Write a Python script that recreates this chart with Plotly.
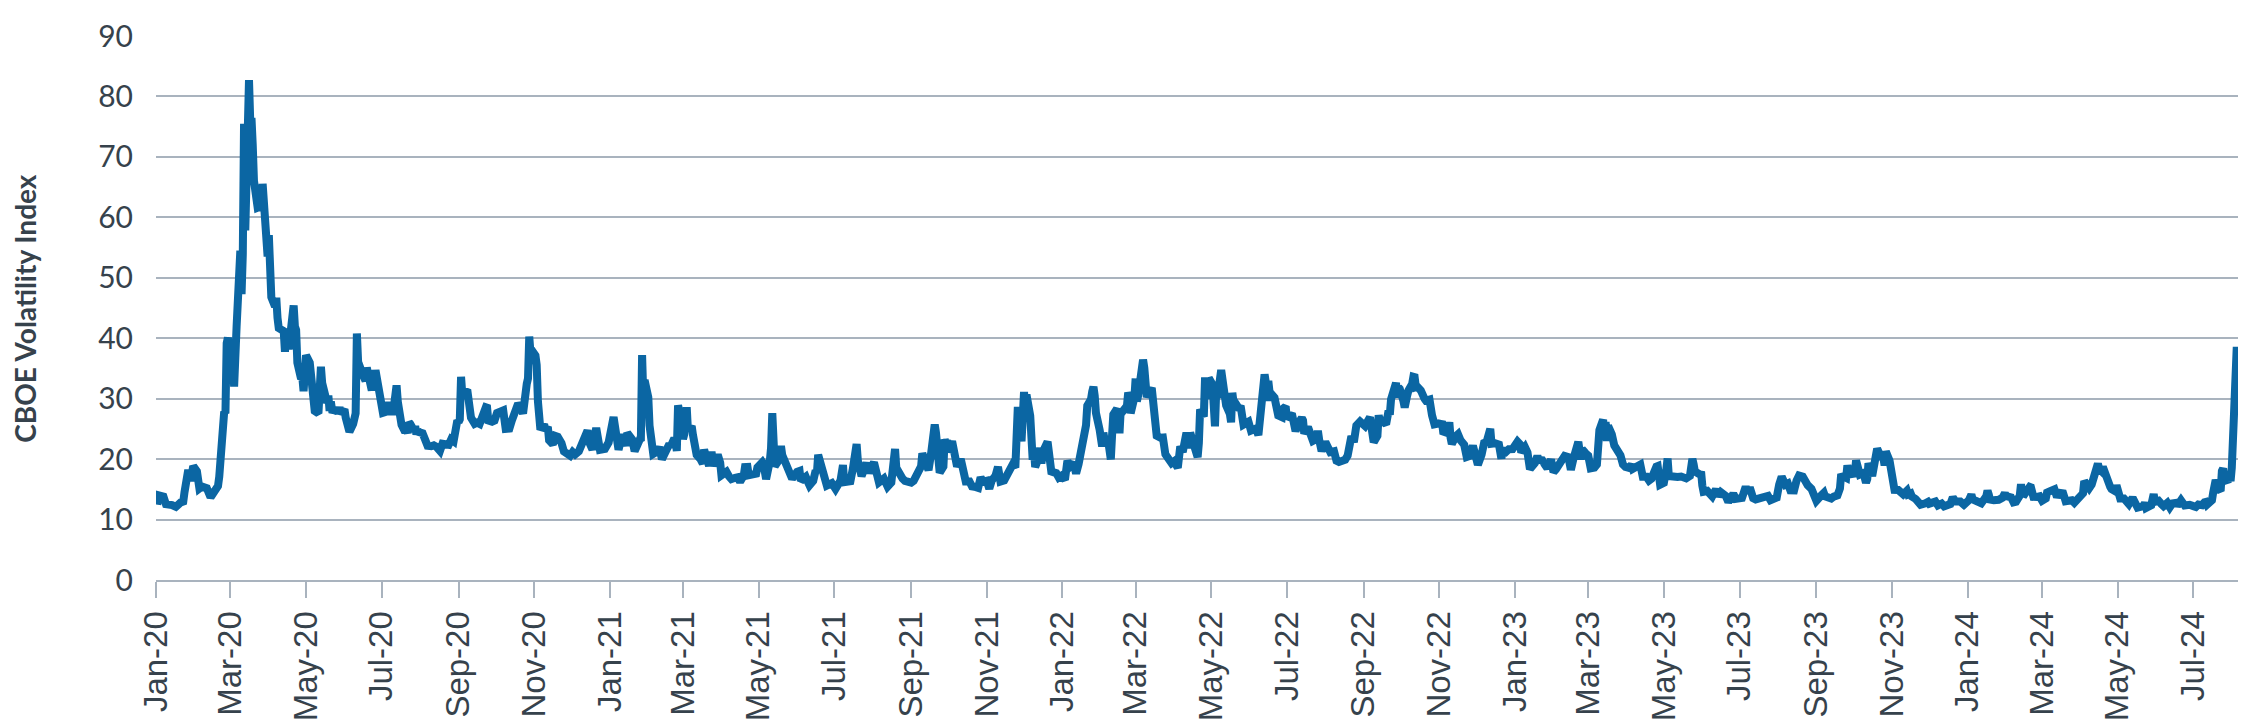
import plotly.graph_objects as go

# VIX daily closes (MM-DD per year)
days_2020 = ["01-02", "01-03", "01-07", "01-09", "01-14", "01-17", "01-21", "01-23", "01-24", "01-27",
             "01-29", "01-31", "02-03", "02-05", "02-07", "02-11", "02-14", "02-18", "02-20", "02-21",
             "02-24", "02-25", "02-26", "02-27", "02-28", "03-02", "03-03", "03-04", "03-05", "03-06",
             "03-09", "03-10", "03-11", "03-12", "03-13", "03-16", "03-17", "03-18", "03-19", "03-20",
             "03-23", "03-24", "03-25", "03-26", "03-27", "03-30", "03-31", "04-01", "04-02", "04-03",
             "04-06", "04-07", "04-08", "04-09", "04-13", "04-14", "04-15", "04-16", "04-17", "04-20",
             "04-21", "04-22", "04-23", "04-24", "04-27", "04-28", "04-29", "04-30", "05-01", "05-04",
             "05-05", "05-06", "05-07", "05-08", "05-11", "05-12", "05-13", "05-14", "05-15", "05-18",
             "05-19", "05-20", "05-21", "05-22", "05-26", "05-27", "05-28", "05-29", "06-01", "06-02",
             "06-03", "06-04", "06-05", "06-08", "06-09", "06-10", "06-11", "06-12", "06-15", "06-16",
             "06-17", "06-18", "06-19", "06-22", "06-23", "06-24", "06-25", "06-26", "06-29", "06-30",
             "07-01", "07-02", "07-06", "07-07", "07-08", "07-09", "07-10", "07-13", "07-14", "07-15",
             "07-16", "07-17", "07-20", "07-21", "07-22", "07-23", "07-24", "07-27", "07-28", "07-29",
             "07-30", "07-31", "08-03", "08-05", "08-07", "08-10", "08-12", "08-14", "08-17", "08-19",
             "08-21", "08-24", "08-26", "08-28", "08-31", "09-01", "09-02", "09-03", "09-04", "09-08",
             "09-09", "09-10", "09-11", "09-14", "09-16", "09-18", "09-21", "09-23", "09-24", "09-25",
             "09-28", "09-30", "10-02", "10-05", "10-07", "10-09", "10-12", "10-14", "10-16", "10-19",
             "10-21", "10-23", "10-26", "10-27", "10-28", "10-29", "10-30", "11-02", "11-03", "11-04",
             "11-05", "11-06", "11-09", "11-10", "11-12", "11-13", "11-16", "11-18", "11-20", "11-23",
             "11-25", "11-27", "11-30", "12-02", "12-04", "12-07", "12-09", "12-11", "12-14", "12-16",
             "12-18", "12-21", "12-23", "12-24", "12-28", "12-30", "12-31"]
vix_2020 = [12.47, 14.02, 13.79, 12.54, 12.39, 12.10, 12.85, 12.98, 14.56, 18.23,
            16.39, 18.84, 17.97, 15.15, 15.47, 15.18, 13.68, 14.83, 15.56, 17.08,
            25.03, 27.85, 27.56, 39.16, 40.11, 33.42, 36.82, 31.99, 39.62, 41.94,
            54.46, 47.30, 53.90, 75.47, 57.83, 82.69, 75.91, 76.45, 72.00, 66.04,
            61.59, 61.67, 63.95, 61.00, 65.54, 57.08, 53.54, 57.06, 50.91, 46.80,
            45.24, 46.70, 43.35, 41.67, 41.17, 37.76, 40.84, 40.11, 38.15, 43.83,
            45.41, 41.98, 41.38, 35.93, 33.29, 33.57, 31.23, 34.15, 37.19, 35.97,
            33.61, 34.12, 31.44, 27.98, 27.57, 33.04, 35.28, 32.61, 31.89, 29.30,
            30.53, 27.99, 29.53, 28.16, 28.01, 27.62, 28.59, 27.51, 28.23, 26.84,
            25.66, 25.81, 24.52, 25.81, 27.57, 27.57, 40.79, 36.09, 34.40, 33.67,
            33.47, 32.94, 35.12, 31.77, 31.37, 33.84, 32.22, 34.73, 31.78, 30.43,
            28.62, 27.68, 27.94, 29.43, 28.08, 29.26, 27.29, 32.19, 29.52, 27.76,
            28.00, 25.68, 24.46, 24.84, 24.32, 26.08, 25.84, 24.74, 25.44, 24.10,
            24.76, 24.46, 24.28, 22.99, 22.21, 22.13, 22.28, 22.05, 21.35, 22.54,
            22.54, 22.37, 23.27, 22.96, 26.41, 26.12, 26.57, 33.60, 30.75, 31.46,
            28.81, 29.71, 26.87, 25.85, 26.04, 25.83, 27.78, 28.58, 28.51, 26.38,
            26.19, 26.37, 27.63, 27.96, 28.06, 25.00, 25.07, 26.40, 27.41, 29.18,
            28.65, 27.55, 32.46, 33.35, 40.28, 37.59, 38.02, 37.13, 35.55, 29.57,
            27.58, 24.86, 25.75, 24.80, 25.35, 23.10, 22.45, 23.84, 23.70, 22.66,
            21.25, 20.84, 20.57, 21.17, 20.79, 21.30, 22.27, 23.31, 24.72, 22.50,
            21.57, 25.16, 23.31, 21.53, 21.70, 22.77, 22.75]

days_2021 = ["01-04", "01-05", "01-06", "01-07", "01-08", "01-11", "01-12", "01-14", "01-15", "01-19",
             "01-21", "01-22", "01-25", "01-26", "01-27", "01-28", "01-29", "02-01", "02-02", "02-03",
             "02-04", "02-05", "02-08", "02-10", "02-12", "02-16", "02-18", "02-19", "02-22", "02-23",
             "02-24", "02-25", "02-26", "03-01", "03-02", "03-03", "03-04", "03-05", "03-08", "03-09",
             "03-10", "03-11", "03-12", "03-15", "03-17", "03-18", "03-19", "03-22", "03-23", "03-24",
             "03-25", "03-26", "03-29", "03-31", "04-01", "04-05", "04-07", "04-09", "04-12", "04-14",
             "04-16", "04-19", "04-20", "04-22", "04-23", "04-27", "04-29", "04-30", "05-04", "05-05",
             "05-07", "05-10", "05-11", "05-12", "05-13", "05-14", "05-17", "05-18", "05-19", "05-20",
             "05-21", "05-24", "05-26", "05-28", "06-01", "06-03", "06-04", "06-08", "06-10", "06-11",
             "06-14", "06-16", "06-17", "06-18", "06-21", "06-23", "06-25", "06-29", "07-01", "07-02",
             "07-06", "07-08", "07-09", "07-12", "07-14", "07-16", "07-19", "07-20", "07-21", "07-23",
             "07-27", "07-29", "07-30", "08-02", "08-04", "08-06", "08-10", "08-12", "08-13", "08-16",
             "08-18", "08-19", "08-20", "08-23", "08-25", "08-27", "08-30", "09-01", "09-03", "09-07",
             "09-09", "09-10", "09-13", "09-15", "09-17", "09-20", "09-21", "09-22", "09-23", "09-24",
             "09-27", "09-28", "09-29", "09-30", "10-01", "10-04", "10-05", "10-06", "10-07", "10-08",
             "10-11", "10-13", "10-15", "10-18", "10-20", "10-22", "10-25", "10-27", "10-29", "11-01",
             "11-03", "11-05", "11-08", "11-10", "11-12", "11-15", "11-17", "11-19", "11-22", "11-24",
             "11-26", "11-29", "11-30", "12-01", "12-02", "12-03", "12-06", "12-07", "12-08", "12-09",
             "12-10", "12-13", "12-14", "12-15", "12-16", "12-17", "12-20", "12-21", "12-22", "12-23",
             "12-27", "12-29", "12-31"]
vix_2021 = [26.97, 25.34, 25.07, 22.37, 21.56, 24.08, 23.33, 22.21, 24.34, 23.24,
            21.32, 21.91, 23.19, 23.02, 37.21, 30.21, 33.09, 30.24, 25.56, 22.91,
            21.77, 20.87, 21.24, 21.99, 19.97, 21.46, 22.49, 22.05, 23.45, 23.11,
            21.34, 28.89, 27.95, 23.35, 24.10, 26.67, 28.57, 24.66, 25.47, 24.03,
            22.56, 21.91, 20.69, 20.03, 19.23, 21.58, 20.95, 18.88, 20.30, 21.20,
            19.81, 18.86, 20.74, 19.40, 17.33, 17.91, 17.16, 16.69, 16.91, 16.99,
            16.25, 17.30, 18.68, 18.71, 17.33, 17.56, 17.61, 18.61, 19.48, 19.15,
            16.69, 19.66, 21.84, 27.59, 23.13, 18.81, 19.72, 21.34, 22.18, 20.67,
            20.15, 18.40, 17.36, 16.76, 17.90, 18.04, 16.42, 17.07, 16.10, 15.65,
            16.39, 18.15, 17.75, 20.70, 17.89, 16.32, 15.62, 16.02, 15.48, 15.07,
            16.44, 19.00, 16.18, 16.17, 16.33, 18.45, 22.50, 19.73, 17.91, 17.20,
            19.36, 17.70, 18.24, 19.46, 17.97, 16.15, 16.79, 15.59, 15.45, 16.12,
            21.57, 21.67, 18.56, 17.15, 16.79, 16.39, 16.11, 16.11, 16.41, 18.05,
            18.80, 20.95, 19.37, 18.18, 20.81, 25.71, 24.36, 20.87, 18.63, 17.75,
            18.76, 23.25, 22.56, 23.14, 21.15, 22.96, 21.30, 21.00, 19.54, 18.77,
            20.00, 18.64, 16.30, 16.30, 15.49, 15.43, 15.24, 16.98, 16.26, 16.41,
            15.10, 16.48, 17.22, 18.73, 16.29, 16.49, 17.11, 17.91, 19.17, 18.58,
            28.62, 22.96, 27.19, 31.12, 27.95, 30.67, 27.18, 21.89, 19.90, 21.58,
            18.69, 20.31, 21.89, 19.29, 20.57, 21.57, 22.87, 19.70, 18.63, 17.96,
            17.68, 16.95, 17.22]

days_2022 = ["01-03", "01-05", "01-07", "01-10", "01-12", "01-14", "01-18", "01-19", "01-20", "01-21",
             "01-24", "01-25", "01-26", "01-27", "01-28", "01-31", "02-02", "02-03", "02-04", "02-07",
             "02-09", "02-10", "02-11", "02-14", "02-15", "02-16", "02-17", "02-18", "02-22", "02-23",
             "02-24", "02-25", "02-28", "03-01", "03-02", "03-03", "03-04", "03-07", "03-08", "03-09",
             "03-10", "03-11", "03-14", "03-15", "03-16", "03-17", "03-18", "03-21", "03-23", "03-25",
             "03-28", "03-30", "04-01", "04-04", "04-06", "04-08", "04-11", "04-13", "04-14", "04-18",
             "04-20", "04-21", "04-22", "04-25", "04-26", "04-27", "04-28", "04-29", "05-02", "05-03",
             "05-04", "05-05", "05-06", "05-09", "05-10", "05-11", "05-12", "05-13", "05-16", "05-17",
             "05-18", "05-19", "05-20", "05-23", "05-25", "05-27", "05-31", "06-02", "06-03", "06-06",
             "06-08", "06-09", "06-10", "06-13", "06-14", "06-15", "06-16", "06-17", "06-21", "06-22",
             "06-23", "06-24", "06-27", "06-28", "06-30", "07-01", "07-05", "07-07", "07-08", "07-11",
             "07-13", "07-14", "07-15", "07-18", "07-20", "07-22", "07-25", "07-26", "07-27", "07-29",
             "08-01", "08-03", "08-05", "08-08", "08-10", "08-12", "08-15", "08-17", "08-19", "08-22",
             "08-24", "08-26", "08-29", "08-31", "09-02", "09-06", "09-08", "09-09", "09-12", "09-13",
             "09-14", "09-16", "09-19", "09-21", "09-22", "09-23", "09-26", "09-27", "09-28", "09-29",
             "09-30", "10-03", "10-04", "10-06", "10-07", "10-10", "10-11", "10-12", "10-13", "10-14",
             "10-17", "10-18", "10-20", "10-21", "10-24", "10-26", "10-28", "10-31", "11-02", "11-03",
             "11-04", "11-07", "11-09", "11-10", "11-11", "11-14", "11-16", "11-18", "11-21", "11-23",
             "11-25", "11-28", "11-30", "12-02", "12-05", "12-07", "12-09", "12-12", "12-13", "12-15",
             "12-16", "12-19", "12-21", "12-22", "12-23", "12-27", "12-29", "12-30"]
vix_2022 = [16.60, 19.73, 18.76, 19.40, 17.62, 19.19, 22.79, 23.85, 25.59, 28.85,
            29.90, 31.16, 31.96, 30.49, 27.66, 24.83, 22.09, 24.35, 23.22, 22.86,
            19.96, 23.91, 27.36, 28.33, 25.70, 24.29, 28.11, 27.75, 28.81, 31.02,
            30.32, 27.59, 30.15, 33.32, 29.57, 30.48, 31.98, 36.45, 35.13, 32.45,
            30.23, 30.75, 31.77, 29.83, 26.67, 25.67, 23.87, 23.53, 23.57, 20.81,
            19.63, 19.33, 19.63, 18.57, 22.10, 21.16, 24.37, 21.82, 24.37, 22.17,
            20.32, 22.68, 28.21, 27.02, 33.52, 31.60, 29.99, 33.40, 32.34, 29.25,
            25.42, 31.20, 30.19, 34.75, 32.99, 32.56, 31.77, 28.87, 27.47, 26.10,
            30.96, 29.35, 29.43, 28.48, 28.37, 25.72, 26.19, 24.72, 24.79, 25.07,
            23.96, 26.09, 27.75, 34.02, 32.69, 29.62, 32.95, 31.13, 30.19, 28.95,
            29.05, 27.23, 26.95, 28.36, 28.71, 26.70, 27.54, 26.08, 24.64, 26.17,
            26.82, 26.40, 24.23, 25.30, 23.88, 23.03, 23.36, 24.69, 23.24, 21.33,
            22.84, 21.95, 21.15, 21.29, 19.74, 19.53, 19.95, 19.90, 20.60, 23.80,
            22.82, 25.56, 26.21, 25.87, 25.47, 26.91, 23.61, 22.79, 23.87, 27.27,
            26.16, 26.30, 25.76, 27.99, 27.35, 29.92, 32.26, 32.60, 30.18, 31.84,
            31.62, 29.59, 28.55, 30.52, 31.36, 32.45, 33.63, 33.57, 31.94, 32.02,
            31.37, 30.50, 29.98, 29.69, 29.85, 27.28, 25.75, 25.88, 25.86, 26.27,
            24.55, 24.35, 26.09, 23.53, 22.52, 23.73, 24.11, 23.12, 22.36, 20.35,
            20.50, 22.21, 20.58, 19.06, 20.75, 22.68, 22.83, 25.00, 22.55, 22.83,
            22.62, 22.42, 20.07, 21.97, 20.87, 21.65, 21.44, 21.67]

days_2023 = ["01-03", "01-05", "01-06", "01-09", "01-11", "01-13", "01-17", "01-19", "01-20", "01-23",
             "01-25", "01-27", "01-30", "02-01", "02-03", "02-06", "02-08", "02-10", "02-13", "02-15",
             "02-17", "02-21", "02-23", "02-24", "02-27", "03-01", "03-03", "03-06", "03-08", "03-09",
             "03-10", "03-13", "03-14", "03-15", "03-16", "03-17", "03-20", "03-22", "03-24", "03-27",
             "03-29", "03-31", "04-03", "04-05", "04-06", "04-10", "04-12", "04-14", "04-17", "04-19",
             "04-21", "04-25", "04-26", "04-28", "05-01", "05-03", "05-04", "05-05", "05-08", "05-10",
             "05-12", "05-15", "05-17", "05-19", "05-22", "05-24", "05-25", "05-26", "05-30", "05-31",
             "06-01", "06-02", "06-05", "06-07", "06-09", "06-12", "06-14", "06-16", "06-20", "06-22",
             "06-23", "06-26", "06-28", "06-30", "07-03", "07-06", "07-07", "07-10", "07-12", "07-14",
             "07-17", "07-19", "07-21", "07-24", "07-26", "07-28", "07-31", "08-02", "08-04", "08-07",
             "08-09", "08-11", "08-14", "08-16", "08-18", "08-21", "08-23", "08-25", "08-28", "08-30",
             "09-01", "09-05", "09-07", "09-08", "09-11", "09-13", "09-15", "09-18", "09-20", "09-21",
             "09-22", "09-25", "09-26", "09-27", "09-29", "10-02", "10-03", "10-04", "10-06", "10-09",
             "10-11", "10-12", "10-13", "10-16", "10-18", "10-19", "10-20", "10-23", "10-25", "10-26",
             "10-27", "10-30", "10-31", "11-01", "11-02", "11-03", "11-06", "11-08", "11-10", "11-13",
             "11-14", "11-16", "11-17", "11-20", "11-22", "11-24", "11-28", "11-30", "12-01", "12-04",
             "12-06", "12-08", "12-11", "12-13", "12-15", "12-18", "12-20", "12-22", "12-26", "12-28",
             "12-29"]
vix_2023 = [22.90, 22.46, 21.13, 21.97, 21.09, 18.35, 19.36, 20.52, 19.85, 19.81,
            19.08, 18.51, 19.94, 17.87, 18.33, 19.43, 19.63, 20.53, 20.34, 18.23,
            20.02, 22.87, 19.95, 21.67, 20.95, 20.58, 18.49, 18.61, 19.11, 22.61,
            24.80, 26.52, 23.73, 26.14, 22.99, 25.51, 24.12, 22.26, 21.74, 20.60,
            19.12, 18.70, 18.55, 19.08, 18.40, 18.97, 19.09, 17.07, 17.07, 16.46,
            16.77, 18.76, 18.84, 15.78, 16.08, 18.34, 20.09, 17.19, 16.98, 16.94,
            17.03, 17.12, 16.87, 16.81, 17.21, 20.03, 19.14, 17.95, 17.46, 17.94,
            15.65, 14.60, 14.73, 13.94, 13.83, 15.01, 13.88, 14.50, 13.88, 12.91,
            13.44, 14.25, 13.43, 13.59, 13.57, 15.44, 14.83, 14.84, 13.54, 13.34,
            13.48, 13.76, 13.60, 13.91, 13.19, 13.33, 13.63, 15.82, 17.10, 15.77,
            15.96, 14.84, 14.82, 16.46, 17.30, 17.12, 15.98, 15.68, 15.08, 13.88,
            13.09, 14.01, 14.40, 13.84, 13.80, 13.48, 13.79, 14.00, 15.14, 17.54,
            17.20, 16.90, 18.94, 18.22, 17.52, 17.61, 19.78, 18.58, 17.45, 17.70,
            16.09, 16.69, 19.32, 17.21, 19.22, 21.40, 21.71, 20.37, 20.19, 18.97,
            21.27, 19.75, 18.14, 16.87, 15.66, 14.91, 14.89, 14.45, 14.17, 14.76,
            14.16, 14.32, 13.80, 13.41, 12.85, 12.46, 12.69, 12.92, 12.63, 13.08,
            12.97, 12.35, 12.63, 12.19, 12.28, 12.56, 13.67, 13.03, 12.99, 12.47,
            12.45]

days_2024 = ["01-02", "01-03", "01-04", "01-05", "01-08", "01-10", "01-12", "01-16", "01-17", "01-18",
             "01-19", "01-22", "01-24", "01-26", "01-29", "01-31", "02-01", "02-02", "02-05", "02-07",
             "02-09", "02-12", "02-13", "02-14", "02-16", "02-20", "02-21", "02-22", "02-23", "02-26",
             "02-28", "03-01", "03-04", "03-05", "03-07", "03-08", "03-11", "03-13", "03-15", "03-18",
             "03-20", "03-22", "03-25", "03-27", "03-28", "04-01", "04-03", "04-04", "04-05", "04-08",
             "04-10", "04-12", "04-15", "04-16", "04-17", "04-18", "04-19", "04-22", "04-23", "04-25",
             "04-26", "04-29", "04-30", "05-01", "05-02", "05-03", "05-06", "05-08", "05-10", "05-13",
             "05-15", "05-17", "05-20", "05-22", "05-23", "05-24", "05-28", "05-30", "05-31", "06-03",
             "06-05", "06-07", "06-10", "06-12", "06-14", "06-17", "06-18", "06-20", "06-21", "06-24",
             "06-26", "06-28", "07-01", "07-03", "07-05", "07-08", "07-10", "07-11", "07-12", "07-15",
             "07-16", "07-17", "07-18", "07-19", "07-22", "07-23", "07-24", "07-25", "07-26", "07-29",
             "07-30", "07-31", "08-01", "08-02", "08-05", "08-06"]
vix_2024 = [13.20, 14.04, 14.13, 13.35, 13.08, 12.69, 12.70, 13.84, 14.79, 14.13,
            13.30, 13.19, 13.14, 13.26, 13.60, 14.35, 13.88, 13.85, 13.67, 12.83,
            12.93, 13.93, 15.85, 14.38, 14.24, 15.42, 15.34, 14.54, 13.75, 13.74,
            13.84, 13.11, 13.49, 14.46, 14.44, 14.74, 15.00, 13.75, 14.41, 14.33,
            13.04, 13.06, 13.19, 12.78, 13.01, 13.65, 14.33, 16.35, 16.03, 15.19,
            15.80, 17.31, 19.23, 18.40, 18.21, 18.00, 18.71, 16.94, 15.69, 15.37,
            15.03, 14.67, 15.65, 14.82, 14.68, 13.49, 13.49, 12.69, 12.55, 13.60,
            12.45, 11.99, 12.15, 12.29, 12.77, 11.93, 12.36, 14.22, 12.92, 13.11,
            12.63, 12.22, 12.74, 12.04, 12.66, 12.75, 12.30, 13.28, 13.20, 12.33,
            12.55, 12.44, 12.22, 12.09, 12.48, 12.37, 12.85, 12.91, 12.46, 13.12,
            13.19, 14.48, 15.93, 16.52, 14.91, 14.72, 18.04, 18.46, 16.39, 16.60,
            17.69, 16.36, 18.59, 23.39, 38.57, 27.71]

y_ticks = [0, 10, 20, 30, 40, 50, 60, 70, 80, 90]
y_title = "CBOE Volatility Index"

dates, vix = [], []
for year, days, vals in [(2020, days_2020, vix_2020), (2021, days_2021, vix_2021),
                         (2022, days_2022, vix_2022), (2023, days_2023, vix_2023),
                         (2024, days_2024, vix_2024)]:
    dates += [f"{year}-{d}" for d in days]
    vix += vals

grid = "#a9b3be"
text = "#36424c"

fig = go.Figure()
fig.add_trace(go.Scatter(x=dates, y=vix, mode="lines",
                         line=dict(color="#0b66a3", width=8), showlegend=False))

fig.update_layout(
    width=2250, height=721,
    margin=dict(l=148, r=20, t=28, b=149),
    plot_bgcolor="white", paper_bgcolor="white",
)
fig.update_xaxes(
    type="date", range=["2020-01-01", "2024-08-06"], automargin=False,
    tick0="2020-01-01", dtick="M2", tickformat="%b-%y", tickangle=-90,
    ticks="outside", ticklen=16, tickwidth=1.5, tickcolor=grid,
    showline=True, linecolor=grid, linewidth=2, showgrid=False, zeroline=False,
    tickfont=dict(family="Liberation Sans", size=33, color=text),
)
fig.update_yaxes(
    range=[0, 90], tickvals=y_ticks, showgrid=True, gridcolor=grid, gridwidth=1.5,
    zeroline=False, showline=False, ticklabelstandoff=22, automargin=False,
    tickfont=dict(family="Lato", size=30, color=text),
)
fig.add_annotation(text=f"<b>{y_title}</b>", xref="paper", yref="paper",
                   x=-0.063, y=0.5, xanchor="center", yanchor="middle",
                   textangle=-90, showarrow=False,
                   font=dict(family="Lato", size=28, weight=900, color=text))

fig.write_html("out.html")
